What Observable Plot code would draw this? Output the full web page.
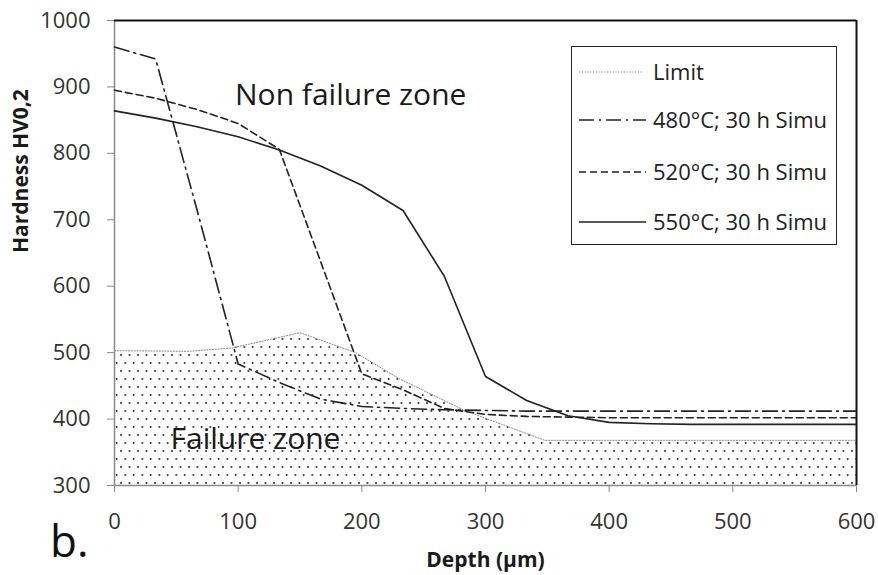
<!DOCTYPE html>
<html><head><meta charset="utf-8">
<script src="https://cdn.jsdelivr.net/npm/d3@7"></script>
<script src="https://cdn.jsdelivr.net/npm/@observablehq/plot@0.6"></script>
<style>
body{margin:0;background:#fff;}
#wrap{position:relative;width:878px;height:575px;font-family:"Open Sans",sans-serif;color:#222;}
#legend{position:absolute;left:571px;top:46px;width:266px;height:199px;border:1.5px solid #222;background:#fff;box-sizing:border-box;}
.item{position:absolute;left:0;width:264px;height:0;}
.item svg{position:absolute;left:7px;top:-5px;}
.item span{position:absolute;left:81px;top:-16px;font-size:22px;line-height:30px;white-space:nowrap;color:#222;}
#blabel{position:absolute;left:50px;top:510px;font-size:44px;line-height:60px;color:#111;}
</style></head>
<body><div id="wrap"><div id="blabel">b.</div></div>
<script>
// Data
const depth = [0, 33.3, 66.7, 100, 133.3, 166.7, 200, 233.3, 266.7, 300, 333.3, 366.7, 400, 433.3, 466.7, 500, 533.3, 566.7, 600];
const hv480 = [960, 942, 715, 483, 455, 430, 419, 416, 414, 413, 412, 412, 412, 412, 412, 412, 412, 412, 412];
const hv520 = [895, 883, 866, 845, 806, 637, 468, 444, 416, 407, 404, 403, 402, 402, 402, 402, 402, 402, 402];
const hv550 = [864, 853, 840, 825, 805, 781, 752, 714, 615, 464, 428, 405, 395, 393, 392, 392, 392, 392, 392];
const limitDepth = [0, 60, 95, 150, 195, 230, 283, 348, 600];
const limitHv = [503, 502, 507, 530, 500, 461, 413, 368, 368];
const seriesNames = ["Limit", "480°C; 30 h Simu", "520°C; 30 h Simu", "550°C; 30 h Simu"];
const xTicks = [0, 100, 200, 300, 400, 500, 600];
const yTicks = [300, 400, 500, 600, 700, 800, 900, 1000];
const annText = ["Non failure zone", "Failure zone"];
const annX = [191, 114];
const annY = [887, 369];
const xLabel = "Depth (µm)";
const yLabel = "Hardness HV0,2";

const styles = {
  "Limit": {stroke: "#8a8a8a", dash: "1.2,1.6", width: 1},
  "480°C; 30 h Simu": {stroke: "#222", dash: "15,5,2,5", width: 1.6},
  "520°C; 30 h Simu": {stroke: "#222", dash: "7,4", width: 1.6},
  "550°C; 30 h Simu": {stroke: "#222", dash: null, width: 1.6}
};

const limitData = limitDepth.map((d, i) => ({x: d, y: limitHv[i]}));
const mk = arr => depth.map((d, i) => ({x: d, y: arr[i]}));
const s480 = mk(hv480), s520 = mk(hv520), s550 = mk(hv550);
const ann = annText.map((t, i) => ({t, x: annX[i], y: annY[i]}));

const lineOpts = name => {
  const s = styles[name];
  const o = {x: "x", y: "y", stroke: s.stroke, strokeWidth: s.width};
  if (s.dash) o.strokeDasharray = s.dash;
  return o;
};

const svg = Plot.plot({
  width: 878,
  height: 575,
  marginLeft: 114,
  marginRight: 22,
  marginTop: 20,
  marginBottom: 90,
  style: {fontFamily: "Open Sans, sans-serif", fontSize: "21px", color: "#333", background: "#fff"},
  x: {domain: [0, 600]},
  y: {domain: [300, 1000]},
  marks: [
    Plot.areaY(limitData, {x: "x", y1: 300, y2: "y", fill: "url(#dots)"}),
    Plot.line(limitData, lineOpts("Limit")),
    Plot.ruleY([300], {stroke: "#8a8a8a", strokeWidth: 1.5}),
    Plot.ruleX([0], {stroke: "#8a8a8a", strokeWidth: 1.5}),
    Plot.ruleY([1000], {stroke: "#111", strokeWidth: 2}),
    Plot.ruleX([600], {stroke: "#111", strokeWidth: 2}),
    Plot.axisX({ticks: xTicks, tickSize: 7, tickPadding: 21, stroke: "#8a8a8a", fill: "#333", fontSize: 22, label: null, tickFormat: d => String(d)}),
    Plot.axisY({ticks: yTicks, tickSize: 7, tickPadding: 17, stroke: "#8a8a8a", fill: "#333", fontSize: 22, label: null, tickFormat: d => String(d)}),
    Plot.line(s480, lineOpts("480°C; 30 h Simu")),
    Plot.line(s520, lineOpts("520°C; 30 h Simu")),
    Plot.line(s550, lineOpts("550°C; 30 h Simu")),
    Plot.text(ann, {x: "x", y: "y", text: "t", fontSize: 30, fill: "#1a1a1a", textAnchor: "middle", lineAnchor: "middle"}),
    Plot.text([xLabel], {frameAnchor: "bottom", dy: 75, fontSize: 21, fontWeight: "bold", fill: "#1a1a1a", lineAnchor: "middle"}),
    Plot.text([yLabel], {frameAnchor: "left", dx: -93, rotate: -90, fontSize: 21, fontWeight: "bold", fill: "#1a1a1a", lineAnchor: "middle"})
  ]
});

// force tick label size on axis text groups
svg.querySelectorAll("g[aria-label$='tick label']").forEach(g => {
  g.setAttribute("font-size", "22");
  g.style.fontSize = "22px";
  g.querySelectorAll("text").forEach(t => { t.style.fontSize = "22px"; });
});

// dot pattern for the failure zone
const NS = "http://www.w3.org/2000/svg";
const defs = document.createElementNS(NS, "defs");
const pat = document.createElementNS(NS, "pattern");
pat.setAttribute("id", "dots");
pat.setAttribute("patternUnits", "userSpaceOnUse");
pat.setAttribute("width", "8.5");
pat.setAttribute("height", "16");
[[2, 3], [6.25, 11]].forEach(([cx, cy]) => {
  const c = document.createElementNS(NS, "circle");
  c.setAttribute("cx", cx); c.setAttribute("cy", cy); c.setAttribute("r", "0.9");
  c.setAttribute("fill", "#111");
  pat.appendChild(c);
});
defs.appendChild(pat);
svg.insertBefore(defs, svg.firstChild);

const wrap = document.getElementById("wrap");
wrap.insertBefore(svg, wrap.firstChild);

// legend
const legend = document.createElement("div");
legend.id = "legend";
const rowY = [25, 73, 125, 175];
seriesNames.forEach((name, i) => {
  const s = styles[name];
  const item = document.createElement("div");
  item.className = "item";
  item.style.top = rowY[i] + "px";
  const w = i === 0 ? 63 : 67;
  item.innerHTML = `<svg width="70" height="10"><line x1="0" x2="${w}" y1="5" y2="5" stroke="${s.stroke}" stroke-width="${s.width}" ${s.dash ? `stroke-dasharray="${s.dash}"` : ""}/></svg><span>${name}</span>`;
  legend.appendChild(item);
});
wrap.appendChild(legend);
</script>
</body></html>
